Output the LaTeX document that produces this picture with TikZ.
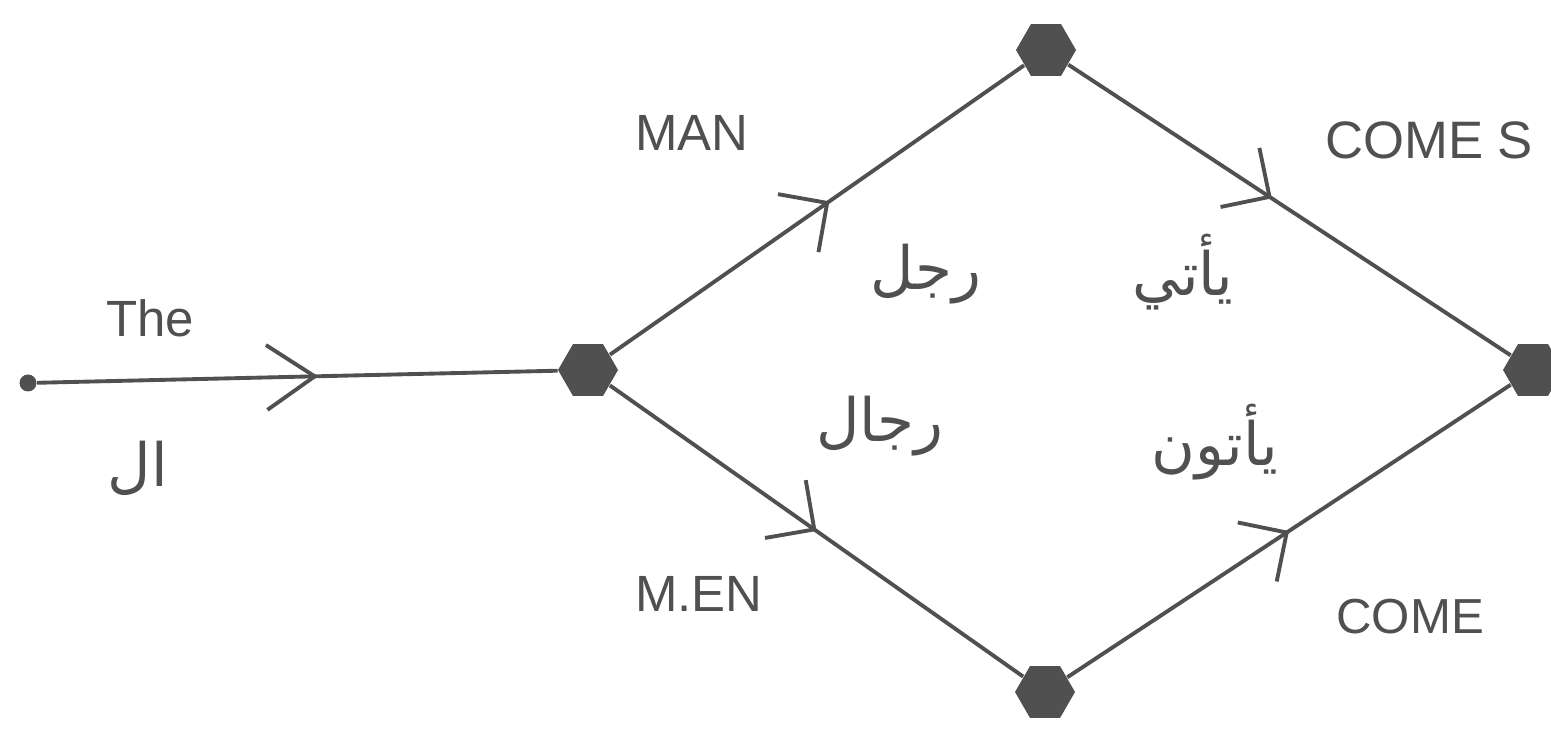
\documentclass[tikz,border=0pt]{standalone}
\usepackage{fontspec}
\setmainfont{Liberation Sans}
\newfontfamily\arabicfont[Script=Arabic]{DejaVu Sans}
\TeXXeTstate=1
\usepackage{tikz}
\usetikzlibrary{arrows.meta}
\usetikzlibrary{decorations.markings,shapes.geometric}
\definecolor{inkgray}{HTML}{505050}
\tikzset{%
  tipA/.tip={Straight Barb[angle=90:5mm]},
  tipB/.tip={Straight Barb[angle=68:5.8mm]},
  bigdot/.style={regular polygon,regular polygon sides=6,fill=inkgray,inner sep=0pt,minimum size=6mm},
  smalldot/.style={circle,fill=inkgray,inner sep=0pt,minimum size=1.7mm},
  trans/.style={inkgray,line width=1.1pt,postaction={decorate},
    decoration={markings,mark=at position #1 with {\arrow{tipA}}}},
  trans/.default=0.5,
  lbl/.style={inkgray,font=\fontsize{14.5}{17}\selectfont},
  arlbl/.style={inkgray,font=\fontsize{17}{20}\arabicfont}
}

\begin{document}
\begin{tikzpicture}[x=1cm,y=1cm]
\useasboundingbox (0,0) rectangle (15.51,-7.37);
% states
\node[smalldot] (start) at (0.28,-3.83) {};
\node[bigdot] (hub) at (5.88,-3.70) {};
\node[bigdot] (top) at (10.46,-0.50) {};
\node[bigdot] (bottom) at (10.45,-6.92) {};
\node[bigdot] (right) at (15.33,-3.70) {};
% transitions
\draw[inkgray,line width=1.1pt,postaction={decorate},
  decoration={markings,mark=at position 0.54 with {\arrow{tipB}}}] (start) -- (hub);
\draw[trans=0.53] (hub) -- (top);
\draw[trans=0.46] (top) -- (right);
\draw[trans] (hub) -- (bottom);
\draw[trans] (bottom) -- (right);
% english words
\node[lbl] (the) at (1.50,-3.18) {The};
\node[lbl] (man) at (6.92,-1.33) {MAN};
\node[lbl,font=\fontsize{15}{17}\selectfont] (comes) at (14.29,-1.40) {COME S};
\node[lbl] (men) at (6.99,-5.94) {M.EN};
\node[lbl,font=\fontsize{14}{17}\selectfont] (come) at (14.10,-6.17) {COME};
% arabic words
\node[arlbl] (al) at (1.38,-4.68) {\beginR ال\endR};
\node[arlbl] (rajul) at (9.26,-2.74) {\beginR رجل\endR};
\node[arlbl] (yati) at (11.83,-2.72) {\beginR يأتي\endR};
\node[arlbl] (rijal) at (8.80,-4.26) {\beginR رجال\endR};
\node[arlbl] (yatun) at (12.15,-4.42) {\beginR يأتون\endR};
\end{tikzpicture}
\end{document}
